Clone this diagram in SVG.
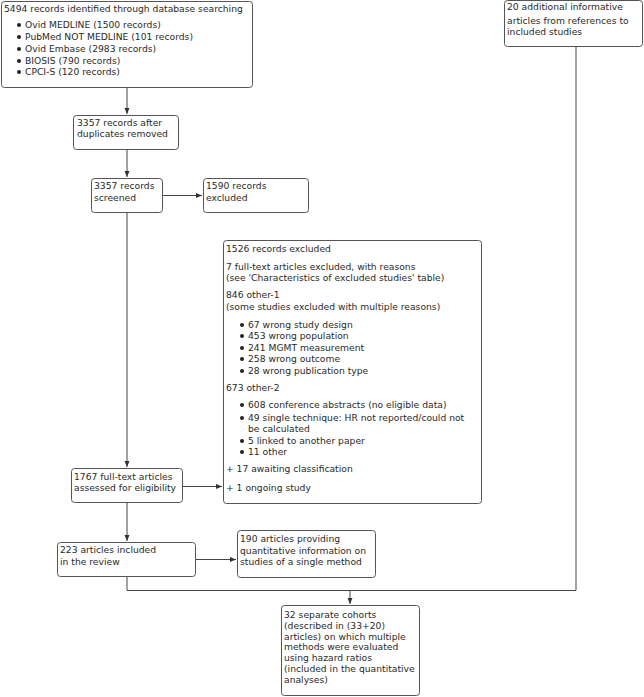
<svg xmlns="http://www.w3.org/2000/svg" width="644" height="697" viewBox="0 0 644 697">
<defs>
<marker id="ah" viewBox="0 0 6 6" refX="6" refY="3" markerWidth="6" markerHeight="6" orient="auto" markerUnits="userSpaceOnUse"><path d="M0,0.5 L6,3 L0,5.5 Z" fill="#333"/></marker>
</defs>
<style>
rect.b{fill:#fff;stroke:#555;stroke-width:1}
text{font-family:"DejaVu Sans",Verdana,sans-serif;font-size:9.2px;fill:#2a2a2a}
.c{fill:none;stroke:#444;stroke-width:1}
circle{fill:#222}
</style>
<rect width="644" height="697" fill="#fff"/>
<g id="connectors">
<path class="c" d="M127,88 V114" marker-end="url(#ah)"/>
<path class="c" d="M127,150 V177" marker-end="url(#ah)"/>
<path class="c" d="M163,195.5 H202" marker-end="url(#ah)"/>
<path class="c" d="M127,212 V467" marker-end="url(#ah)"/>
<path class="c" d="M183,486.5 H222" marker-end="url(#ah)"/>
<path class="c" d="M127,503 V541" marker-end="url(#ah)"/>
<path class="c" d="M196,559.5 H236" marker-end="url(#ah)"/>
<path class="c" d="M127,577 V590.5 H576 V47"/>
<path class="c" d="M350,590.5 V604" marker-end="url(#ah)"/>
</g>
<g id="n1">
<rect class="b" x="1.5" y="1.5" width="251" height="86" rx="3"/>
<text x="4" y="12">5494 records identified through database searching</text>
<circle cx="19" cy="25" r="2"/><text x="25" y="28">Ovid MEDLINE (1500 records)</text>
<circle cx="19" cy="37" r="2"/><text x="25" y="40">PubMed NOT MEDLINE (101 records)</text>
<circle cx="19" cy="49" r="2"/><text x="25" y="52">Ovid Embase (2983 records)</text>
<circle cx="19" cy="61" r="2"/><text x="25" y="64">BIOSIS (790 records)</text>
<circle cx="19" cy="72" r="2"/><text x="25" y="75">CPCI-S (120 records)</text>
</g>
<g id="n2">
<rect class="b" x="504.5" y="0.5" width="138" height="46" rx="3"/>
<text x="507" y="10">20 additional informative</text>
<text x="507" y="24">articles from references to</text>
<text x="507" y="35">included studies</text>
</g>
<g id="n3">
<rect class="b" x="73.5" y="115.5" width="105" height="34" rx="3"/>
<text x="77" y="126">3357 records after</text>
<text x="77" y="137">duplicates removed</text>
</g>
<g id="n4">
<rect class="b" x="91.5" y="178.5" width="71" height="34" rx="3"/>
<text x="94" y="189">3357 records</text>
<text x="94" y="201">screened</text>
</g>
<g id="n5">
<rect class="b" x="203.5" y="178.5" width="105" height="34" rx="3"/>
<text x="206" y="189">1590 records</text>
<text x="206" y="201">excluded</text>
</g>
<g id="n6">
<rect class="b" x="223.5" y="240.5" width="258" height="263" rx="3"/>
<text x="226" y="252">1526 records excluded</text>
<text x="226" y="270">7 full-text articles excluded, with reasons</text>
<text x="226" y="281">(see 'Characteristics of excluded studies' table)</text>
<text x="226" y="298">846 other-1</text>
<text x="226" y="310">(some studies excluded with multiple reasons)</text>
<circle cx="242" cy="325" r="2"/><text x="248" y="328">67 wrong study design</text>
<circle cx="242" cy="336" r="2"/><text x="248" y="339">453 wrong population</text>
<circle cx="242" cy="348" r="2"/><text x="248" y="351">241 MGMT measurement</text>
<circle cx="242" cy="359" r="2"/><text x="248" y="362">258 wrong outcome</text>
<circle cx="242" cy="371" r="2"/><text x="248" y="374">28 wrong publication type</text>
<text x="226" y="391">673 other-2</text>
<circle cx="242" cy="405" r="2"/><text x="248" y="408">608 conference abstracts (no eligible data)</text>
<circle cx="242" cy="418" r="2"/><text x="248" y="421">49 single technique: HR not reported/could not</text>
<text x="248" y="432">be calculated</text>
<circle cx="242" cy="441" r="2"/><text x="248" y="444">5 linked to another paper</text>
<circle cx="242" cy="452" r="2"/><text x="248" y="455">11 other</text>
<text x="226" y="472">+ 17 awaiting classification</text>
<text x="226" y="491">+ 1 ongoing study</text>
</g>
<g id="n7">
<rect class="b" x="71.5" y="468.5" width="111" height="34" rx="3"/>
<text x="74" y="480">1767 full-text articles</text>
<text x="74" y="491">assessed for eligibility</text>
</g>
<g id="n8">
<rect class="b" x="57.5" y="542.5" width="138" height="34" rx="3"/>
<text x="60" y="553">223 articles included</text>
<text x="60" y="565">in the review</text>
</g>
<g id="n9">
<rect class="b" x="237.5" y="530.5" width="138" height="47" rx="3"/>
<text x="240" y="542">190 articles providing</text>
<text x="240" y="554">quantitative information on</text>
<text x="240" y="565">studies of a single method</text>
</g>
<g id="n10">
<rect class="b" x="281.5" y="605.5" width="138" height="90" rx="3"/>
<text x="284" y="618">32 separate cohorts</text>
<text x="284" y="629">(described in (33+20)</text>
<text x="284" y="640">articles) on which multiple</text>
<text x="284" y="650">methods were evaluated</text>
<text x="284" y="661">using hazard ratios</text>
<text x="284" y="672">(included in the quantitative</text>
<text x="284" y="683">analyses)</text>
</g>
</svg>
